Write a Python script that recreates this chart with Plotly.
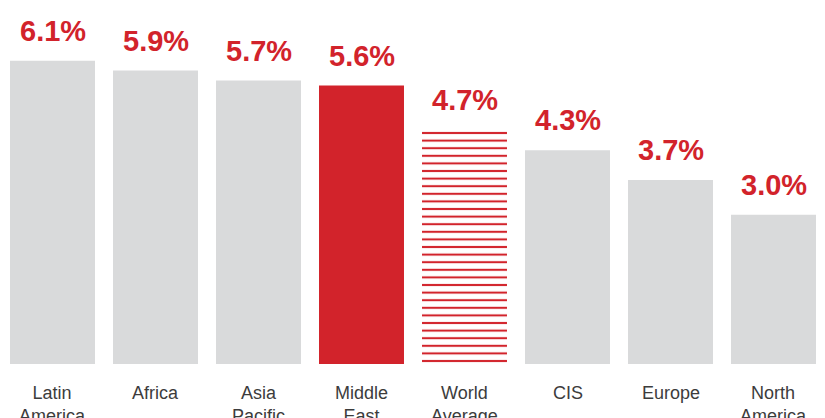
import plotly.graph_objects as go

regions = ["Latin<br>America", "Africa", "Asia<br>Pacific", "Middle<br>East",
           "World<br>Average", "CIS", "Europe", "North<br>America"]
values = [6.1, 5.9, 5.7, 5.6, 4.7, 4.3, 3.7, 3.0]
value_labels = ["6.1%", "5.9%", "5.7%", "5.6%", "4.7%", "4.3%", "3.7%", "3.0%"]
highlight = "Middle<br>East"
average = "World<br>Average"

GRAY = "#d9dadb"
RED = "#d2232b"

x = list(range(len(regions)))

solid_x = [xi for xi, r in zip(x, regions) if r != average]
solid_y = [v for v, r in zip(values, regions) if r != average]
solid_c = [RED if r == highlight else GRAY for r in regions if r != average]
avg_x = [xi for xi, r in zip(x, regions) if r == average]
avg_y = [v for v, r in zip(values, regions) if r == average]

fig = go.Figure()
fig.add_trace(go.Bar(
    x=solid_x, y=solid_y,
    marker=dict(color=solid_c, line=dict(width=0)),
    hoverinfo="skip",
))
fig.add_trace(go.Bar(
    x=avg_x, y=avg_y,
    marker=dict(
        color="white",
        line=dict(width=0),
        pattern=dict(shape="-", fgcolor=RED, bgcolor="white", fgopacity=1,
                     size=7.6, solidity=0.27, fillmode="overlay"),
    ),
    hoverinfo="skip",
))

annotations = []
for xi, v, lab in zip(x, values, value_labels):
    annotations.append(dict(
        x=xi, y=v, xref="x", yref="y", text=lab, showarrow=False,
        yanchor="bottom", yshift=12,
        font=dict(family="Liberation Sans, Arial, sans-serif",
                  size=29, color=RED, weight="bold"),
    ))
for xi, r in zip(x, regions):
    annotations.append(dict(
        x=xi, y=0, xref="x", yref="paper", text=r, showarrow=False,
        yanchor="top", yshift=-17,
        font=dict(family="Liberation Sans, Arial, sans-serif", size=18, color="#3c3c3c"),
    ))

fig.update_layout(
    width=825, height=418,
    margin=dict(l=1, r=0, t=0, b=54),
    plot_bgcolor="white", paper_bgcolor="white",
    bargap=0.175,
    barmode="overlay",
    showlegend=False,
    annotations=annotations,
    xaxis=dict(range=[-0.5, 7.5], showticklabels=False, showgrid=False,
               zeroline=False, showline=False, ticks=""),
    yaxis=dict(range=[0, 7.32], showticklabels=False, showgrid=False,
               zeroline=False, showline=False, ticks=""),
)

fig.write_html("out.html", config={"displayModeBar": False},
               post_script="document.body.style.margin='0';document.body.style.overflow='hidden';")
